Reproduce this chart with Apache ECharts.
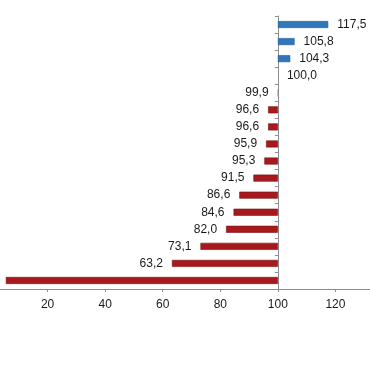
<!DOCTYPE html>
<html>
<head>
<meta charset="utf-8">
<script src="https://cdn.jsdelivr.net/npm/echarts@6/dist/echarts.min.js"></script>
<style>
html,body{margin:0;padding:0;background:#fff;overflow:hidden;width:370px;height:380px;}
#c{width:383px;height:380px;margin-left:-13px;}
</style>
</head>
<body>
<div id="c"></div>
<script>
var categories = ['c1','c2','c3','c4','c5','c6','c7','c8','c9','c10','c11','c12','c13','c14','c15','c16'];
var values = [117.5,105.8,104.3,100.0,99.9,96.6,96.6,95.9,95.3,91.5,86.6,84.6,82.0,73.1,63.2,5.5];
var baseValue = 100;
var tickLabels = [20,40,60,80,100,120];

var chart = echarts.init(document.getElementById('c'));
var data = values.map(function(v){
  var d = +(v - baseValue).toFixed(2);
  var up = v >= baseValue;
  var big = Math.abs(d) >= 1;
  return {
    value: d,
    itemStyle: {
      color: up ? '#2F77BA' : '#A8191D',
      borderColor: up ? '#22609A' : '#7A1013',
      borderWidth: big ? 0.6 : 0
    },
    label: { position: up ? 'right' : 'left' }
  };
});
chart.setOption({
  animation: false,
  grid: { left: 0, right: 0, top: 16, bottom: 91, containLabel: false },
  xAxis: {
    type: 'value',
    min: -100,
    max: 32,
    interval: 20,
    axisLine: { show: true, lineStyle: { color: '#8c8c8c', width: 1 } },
    axisTick: { show: true, length: 3, lineStyle: { color: '#8c8c8c' } },
    splitLine: { show: false },
    axisLabel: {
      margin: 10,
      color: '#1a1a1a',
      fontSize: 12,
      fontFamily: 'Liberation Sans',
      showMaxLabel: false,
      formatter: function(v){
        var t = Math.round(v + baseValue);
        return tickLabels.indexOf(t) >= 0 ? String(t) : '';
      }
    }
  },
  yAxis: {
    type: 'category',
    data: categories,
    inverse: true,
    axisLine: { show: true, onZero: true, lineStyle: { color: '#8c8c8c', width: 1 } },
    axisTick: { show: true, length: 3, lineStyle: { color: '#8c8c8c' } },
    axisLabel: { show: false }
  },
  series: [{
    type: 'bar',
    data: data,
    barWidth: 7,
    label: {
      show: true,
      distance: 9,
      color: '#1a1a1a',
      fontSize: 12,
      fontFamily: 'Liberation Sans',
      formatter: function(p){ return values[p.dataIndex].toFixed(1).replace('.', ','); }
    }
  }]
});
</script>
</body>
</html>
